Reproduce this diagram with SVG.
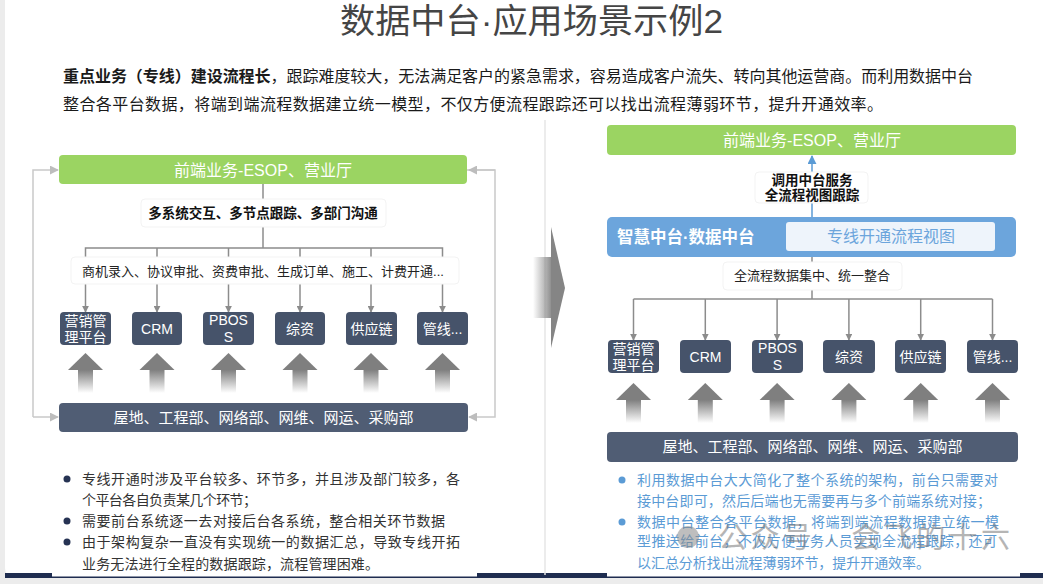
<svg xmlns="http://www.w3.org/2000/svg" width="1043" height="584" viewBox="0 0 1043 584">
<style>
text{font-family:"Liberation Sans","Noto Sans CJK SC",sans-serif}
.t{fill:#454545;font-size:34px;font-weight:normal}
.intro{fill:#1a1a1a;font-size:16px}
.b{font-weight:bold}
.gbar{fill:#9bd462}
.gtxt{fill:#fff;font-size:16px}
.dbox{fill:#46536a}
.btxt{fill:#fff;font-size:14px}
.bar{fill:#505d74}
.bartxt{fill:#fff;font-size:15px}
.lbl{fill:#222;font-size:13px}
.lblb{fill:#111;font-size:13.5px;font-weight:bold}
.lblbox{fill:#fff;stroke:#f3f3f3;stroke-width:1}
.con{stroke:#8c8c8c;stroke-width:1.5;fill:none}
.fb{stroke:#c9c9c9;stroke-width:1.5;fill:none}
.bl{fill:#333;font-size:14px}
.br{fill:#5b9bd5;font-size:14px}
.head{fill:#7f7f7f}
</style>
<defs>
<marker id="ag" viewBox="0 0 10 10" refX="9" refY="5" markerWidth="7" markerHeight="7" markerUnits="userSpaceOnUse" orient="auto"><path d="M0,0L10,5L0,10z" fill="#8c8c8c"/></marker>
<marker id="af" viewBox="0 0 10 10" refX="9" refY="5" markerWidth="9" markerHeight="9" markerUnits="userSpaceOnUse" orient="auto"><path d="M0,0L10,5L0,10z" fill="#bdbdbd"/></marker>
<marker id="ab" viewBox="0 0 10 10" refX="9" refY="5" markerWidth="9" markerHeight="9" markerUnits="userSpaceOnUse" orient="auto"><path d="M0,0L10,5L0,10z" fill="#5b9bd5"/></marker>
<linearGradient id="shaft" x1="0" y1="0" x2="0" y2="1"><stop offset="0" stop-color="#808080"/><stop offset="1" stop-color="#808080" stop-opacity="0"/></linearGradient>
<linearGradient id="bigshaft" x1="0" y1="0" x2="1" y2="0"><stop offset="0" stop-color="#8a8a8a" stop-opacity="0"/><stop offset="1" stop-color="#8a8a8a"/></linearGradient>
<g id="up"><path class="head" d="M-17.5,17L0,0L17.5,17z"/><rect x="-7.5" y="17" width="15" height="23" fill="url(#shaft)"/></g>
</defs>
<rect width="1043" height="584" fill="#ececec"/>
<path d="M5,0H1043V578H15Q5,578 5,568z" fill="#fff"/>
<rect x="5" y="573" width="47" height="5" fill="#1f2d50"/>
<rect x="477" y="573" width="130" height="5" fill="#1f2d50"/>
<rect x="1020" y="573" width="23" height="5" fill="#1f2d50"/>
<rect x="52" y="576.5" width="968" height="1.5" fill="#1f2d50"/>
<line x1="545" y1="120" x2="545" y2="575" stroke="#e6e6e6" stroke-width="1.5"/>

<text class="t" x="340" y="33" textLength="383" lengthAdjust="spacingAndGlyphs">数据中台·应用场景示例2</text>
<text class="intro" x="63" y="82" textLength="910" lengthAdjust="spacing"><tspan class="b">重点业务（专线）建设流程长</tspan>，跟踪难度较大，无法满足客户的紧急需求，容易造成客户流失、转向其他运营商。而利用数据中台</text>
<text class="intro" x="63" y="110" textLength="820" lengthAdjust="spacing">整合各平台数据，将端到端流程数据建立统一模型，不仅方便流程跟踪还可以找出流程薄弱环节，提升开通效率。</text>

<g id="big-arrow">
<rect x="533" y="257" width="19" height="61" fill="url(#bigshaft)"/>
<path d="M551,227L565,288L551,348z" fill="#858585"/>
</g>

<g id="connectors">
<path class="fb" d="M467,170H495V417H469" marker-end="url(#af)"/>
<path class="fb" d="M33,417V170H58" marker-end="url(#af)"/>
<path class="fb" d="M33,417H58" marker-end="url(#af)"/>
<path class="fb" d="M495,170H469" marker-end="url(#af)"/>
<line class="con" x1="263" y1="184" x2="263" y2="199"/>
<line class="con" x1="263" y1="227" x2="263" y2="248"/>
<path class="con" d="M85.5,257V248H442.5V257"/>
<path class="con" d="M157,248V257M228.5,248V257M300,248V257M371,248V257"/>
<path class="con" d="M85.5,284V312" marker-end="url(#ag)"/>
<path class="con" d="M157,284V312" marker-end="url(#ag)"/>
<path class="con" d="M228.5,284V312" marker-end="url(#ag)"/>
<path class="con" d="M300,284V312" marker-end="url(#ag)"/>
<path class="con" d="M371,284V312" marker-end="url(#ag)"/>
<path class="con" d="M442.5,284V312" marker-end="url(#ag)"/>
<path d="M812,217V156" stroke="#5b9bd5" stroke-width="1.5" fill="none" marker-end="url(#ab)"/>
<line class="con" x1="812" y1="256" x2="812" y2="299"/>
<path class="con" d="M633.5,299H992.5"/>
<path class="con" d="M633.5,299V340" marker-end="url(#ag)"/>
<path class="con" d="M705.3,299V340" marker-end="url(#ag)"/>
<path class="con" d="M777.1,299V340" marker-end="url(#ag)"/>
<path class="con" d="M848.9,299V340" marker-end="url(#ag)"/>
<path class="con" d="M920.7,299V340" marker-end="url(#ag)"/>
<path class="con" d="M992.5,299V340" marker-end="url(#ag)"/>
<use href="#up" x="85.5" y="353"/><use href="#up" x="157" y="353"/><use href="#up" x="228.5" y="353"/>
<use href="#up" x="300" y="353"/><use href="#up" x="371" y="353"/><use href="#up" x="442.5" y="353"/>
<use href="#up" x="633.5" y="383"/><use href="#up" x="705.3" y="383"/><use href="#up" x="777.1" y="383"/>
<use href="#up" x="848.9" y="383"/><use href="#up" x="920.7" y="383"/><use href="#up" x="992.5" y="383"/>
</g>

<g id="L-front"><rect class="gbar" x="59" y="155" width="408" height="29" rx="4"/><text class="gtxt" x="263" y="175.5" text-anchor="middle">前端业务-ESOP、营业厅</text></g>
<g id="L-label1"><rect class="lblbox" x="141" y="199" width="245" height="28" rx="4"/><text class="lblb" x="263" y="218" text-anchor="middle">多系统交互、多节点跟踪、多部门沟通</text></g>
<g id="L-label2"><rect class="lblbox" x="71" y="257" width="388" height="27" rx="4"/><text class="lbl" x="263" y="275.5" text-anchor="middle">商机录入、协议审批、资费审批、生成订单、施工、计费开通...</text></g>
<g id="L-b1"><rect class="dbox" x="60" y="312" width="51" height="33" rx="4"/><text class="btxt" x="85.5" y="326" text-anchor="middle">营销管</text><text class="btxt" x="85.5" y="342" text-anchor="middle">理平台</text></g>
<g id="L-b2"><rect class="dbox" x="132" y="312" width="50" height="33" rx="4"/><text class="btxt" x="157" y="333.5" text-anchor="middle">CRM</text></g>
<g id="L-b3"><rect class="dbox" x="203" y="312" width="51" height="33" rx="4"/><text class="btxt" x="228.5" y="325" text-anchor="middle">PBOS</text><text class="btxt" x="228.5" y="342" text-anchor="middle">S</text></g>
<g id="L-b4"><rect class="dbox" x="275" y="312" width="50" height="33" rx="4"/><text class="btxt" x="300" y="333.5" text-anchor="middle">综资</text></g>
<g id="L-b5"><rect class="dbox" x="346" y="312" width="51" height="33" rx="4"/><text class="btxt" x="371.5" y="333.5" text-anchor="middle">供应链</text></g>
<g id="L-b6"><rect class="dbox" x="417" y="312" width="51" height="33" rx="4"/><text class="btxt" x="442.5" y="333.5" text-anchor="middle">管线...</text></g>
<g id="L-back"><rect class="bar" x="59" y="403" width="409" height="29" rx="4"/><text class="bartxt" x="263.5" y="422.5" text-anchor="middle">屋地、工程部、网络部、网维、网运、采购部</text></g>

<g id="L-notes">
<circle cx="67" cy="479" r="3.5" fill="#263353"/><circle cx="67" cy="521" r="3.5" fill="#263353"/><circle cx="67" cy="542" r="3.5" fill="#263353"/>
<text class="bl" x="82" y="484" textLength="378" lengthAdjust="spacing">专线开通时涉及平台较多、环节多，并且涉及部门较多，各</text>
<text class="bl" x="82" y="505" textLength="175" lengthAdjust="spacing">个平台各自负责某几个环节；</text>
<text class="bl" x="82" y="526" textLength="363" lengthAdjust="spacing">需要前台系统逐一去对接后台各系统，整合相关环节数据</text>
<text class="bl" x="82" y="547" textLength="378" lengthAdjust="spacing">由于架构复杂一直没有实现统一的数据汇总，导致专线开拓</text>
<text class="bl" x="82" y="569" textLength="297" lengthAdjust="spacing">业务无法进行全程的数据跟踪，流程管理困难。</text>
</g>

<g id="R-front"><rect class="gbar" x="607" y="125" width="409" height="30" rx="4"/><text class="gtxt" x="812" y="146" text-anchor="middle">前端业务-ESOP、营业厅</text></g>
<g id="R-label1"><rect class="lblbox" x="755" y="172" width="113" height="31" rx="4"/><text class="lblb" x="812" y="185" text-anchor="middle">调用中台服务</text><text class="lblb" x="812" y="200" text-anchor="middle">全流程视图跟踪</text></g>
<g id="R-mid"><rect x="607" y="217" width="409" height="40" rx="5" fill="#6ca5dc"/><text x="617" y="243" fill="#fff" font-size="16.5" font-weight="bold">智慧中台·数据中台</text>
<rect x="786" y="222" width="209" height="29" rx="3" fill="#eef4fb"/><text x="891" y="242" fill="#6ca5dc" font-size="16" text-anchor="middle">专线开通流程视图</text></g>
<g id="R-label2"><rect class="lblbox" x="723" y="262" width="179" height="28" rx="4"/><text class="lbl" x="812" y="280" text-anchor="middle">全流程数据集中、统一整合</text></g>
<g id="R-b1"><rect class="dbox" x="608" y="340" width="51" height="33" rx="4"/><text class="btxt" x="633.5" y="354" text-anchor="middle">营销管</text><text class="btxt" x="633.5" y="370" text-anchor="middle">理平台</text></g>
<g id="R-b2"><rect class="dbox" x="680" y="340" width="51" height="33" rx="4"/><text class="btxt" x="705.5" y="361.5" text-anchor="middle">CRM</text></g>
<g id="R-b3"><rect class="dbox" x="752" y="340" width="51" height="33" rx="4"/><text class="btxt" x="777.5" y="353" text-anchor="middle">PBOS</text><text class="btxt" x="777.5" y="370" text-anchor="middle">S</text></g>
<g id="R-b4"><rect class="dbox" x="823" y="340" width="52" height="33" rx="4"/><text class="btxt" x="849" y="361.5" text-anchor="middle">综资</text></g>
<g id="R-b5"><rect class="dbox" x="895" y="340" width="51" height="33" rx="4"/><text class="btxt" x="920.5" y="361.5" text-anchor="middle">供应链</text></g>
<g id="R-b6"><rect class="dbox" x="967" y="340" width="51" height="33" rx="4"/><text class="btxt" x="992.5" y="361.5" text-anchor="middle">管线...</text></g>
<g id="R-back"><rect class="bar" x="607" y="432" width="411" height="30" rx="4"/><text class="bartxt" x="812.5" y="452" text-anchor="middle">屋地、工程部、网络部、网维、网运、采购部</text></g>

<g id="R-notes">
<circle cx="622" cy="480" r="3.5" fill="#5b9bd5"/><circle cx="622" cy="522" r="3.5" fill="#5b9bd5"/>
<text class="br" x="637" y="485" textLength="361" lengthAdjust="spacing">利用数据中台大大简化了整个系统的架构，前台只需要对</text>
<text class="br" x="637" y="506" textLength="354" lengthAdjust="spacing">接中台即可，然后后端也无需要再与多个前端系统对接；</text>
<text class="br" x="637" y="527" textLength="362" lengthAdjust="spacing">数据中台整合各平台数据，将端到端流程数据建立统一模</text>
<text class="br" x="637" y="546" textLength="360" lengthAdjust="spacing">型推送给前台，不仅方便业务人员实现全流程跟踪，还可</text>
<text class="br" x="637" y="568" textLength="293" lengthAdjust="spacing">以汇总分析找出流程薄弱环节，提升开通效率。</text>
</g>

<g id="watermark" opacity="0.55">
<circle cx="688" cy="537" r="11" fill="#8a8a8a"/>
<text x="718" y="548" fill="#7a7a7a" font-size="29" textLength="292" lengthAdjust="spacing">公众号 · 会飞的十六</text>
</g>
</svg>
